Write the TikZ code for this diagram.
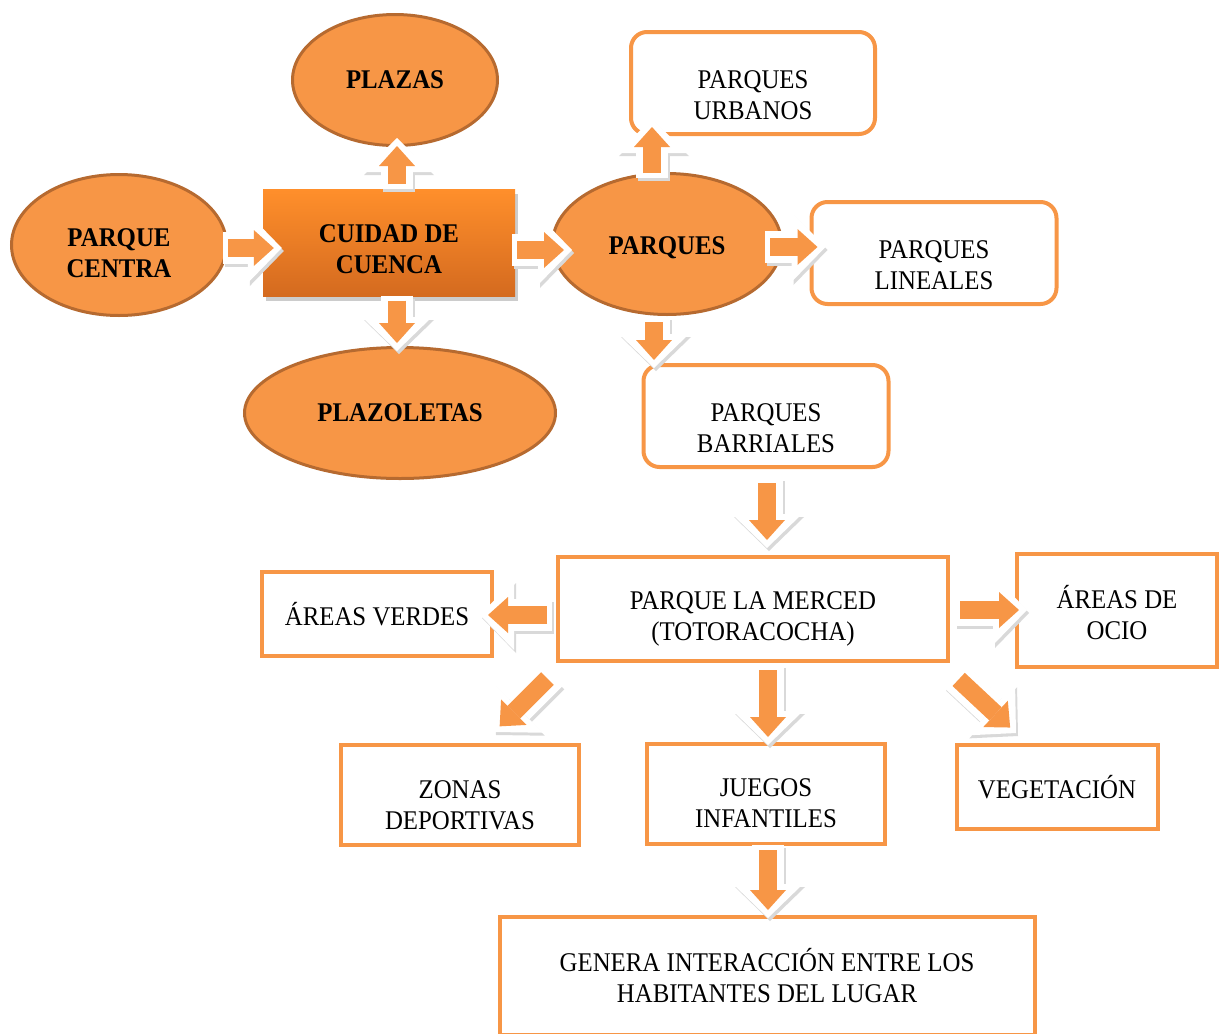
\documentclass[tikz,border=0pt]{standalone}
\usepackage{fontspec}
\setmainfont{Liberation Serif}[FakeStretch=0.92]
\usetikzlibrary{arrows.meta,calc,shapes.geometric,shadows}
\definecolor{Or}{HTML}{F79646}
\definecolor{OrD}{HTML}{B66A30}
\definecolor{OrT}{HTML}{FF8F2B}
\definecolor{OrB}{HTML}{D46A1F}
\tikzset{
  txt/.style={font=\fontsize{27}{31}\selectfont, align=center, inner sep=0pt},
  btxt/.style={txt, font=\fontsize{27}{31}\selectfont\bfseries},
  elip/.style={ellipse, draw=OrD, line width=3pt, fill=Or, btxt},
  caja/.style={rectangle, draw=Or, line width=4pt, fill=white, txt},
  cajar/.style={caja, rounded corners=16pt},
  blk/.style={draw=Or, line width=18pt, shorten <=5pt, shorten >=8pt,
    -{Triangle[width=36pt, length=20pt, line width=0pt]},
    preaction={draw=black!15, line width=32pt, shorten <=0pt, shorten >=0pt,
      -{Triangle[width=70pt, length=34pt, line width=0pt]},
      transform canvas={shift={(2pt,-3pt)}}},
    preaction={draw=white, line width=32pt, shorten <=0pt, shorten >=0pt,
      -{Triangle[width=70pt, length=34pt, line width=0pt]}}},
}
\begin{document}
\begin{tikzpicture}[x=1pt, y=-1pt]
  \useasboundingbox (0,0) rectangle (1219,1034);
  \clip (0,0) rectangle (1219,1034);
  % upper part
  \node[elip, minimum width=215pt, minimum height=141pt,
    label={[btxt, yshift=-8pt]center:{PARQUE\\CENTRA}}] (centra) at (119,245) {};
  \node[rectangle, top color=OrT, bottom color=OrB,
    drop shadow={shadow xshift=3pt, shadow yshift=-4pt, fill=black!40, opacity=.5},
    minimum width=252pt, minimum height=107pt,
    label={[btxt, yshift=-6pt]center:{CUIDAD DE\\CUENCA}}] (cuenca) at (389,243) {};
  \node[elip, minimum width=205pt, minimum height=131pt] (plazas) at (395,80) {PLAZAS};
  \node[elip, minimum width=311pt, minimum height=131pt] (plazoletas) at (400,413) {PLAZOLETAS};
  \node[elip, minimum width=229pt, minimum height=141pt,
    label={[btxt, yshift=-4pt]center:PARQUES}] (parques) at (667,244) {};
  \node[cajar, minimum width=244pt, minimum height=102pt,
    label={[txt, yshift=-12pt]center:{PARQUES\\URBANOS}}] (urbanos) at (753,83) {};
  \node[cajar, minimum width=245pt, minimum height=102pt,
    label={[txt, yshift=-12pt]center:{PARQUES\\LINEALES}}] (lineales) at (934,253) {};
  \node[cajar, minimum width=245pt, minimum height=102pt,
    label={[txt, yshift=-12pt]center:{PARQUES\\BARRIALES}}] (barriales) at (766,416) {};
  % lower part
  \node[caja, minimum width=390pt, minimum height=104pt,
    label={[txt, yshift=-10pt]center:{PARQUE LA MERCED\\(TOTORACOCHA)}}] (merced) at (753,609) {};
  \node[caja, minimum width=230pt, minimum height=84pt] (verdes) at (377,614) {ÁREAS VERDES};
  \node[caja, minimum width=200pt, minimum height=113pt,
    label={[txt, yshift=-3pt]center:{ÁREAS DE\\OCIO}}] (ocio) at (1117,610) {};
  \node[caja, minimum width=238pt, minimum height=100pt,
    label={[txt, yshift=-10pt]center:{ZONAS\\DEPORTIVAS}}] (zonas) at (460,795) {};
  \node[caja, minimum width=238pt, minimum height=100pt,
    label={[txt, yshift=-9pt]center:{JUEGOS\\INFANTILES}}] (juegos) at (766,794) {};
  \node[caja, minimum width=201pt, minimum height=84pt] (vegetacion) at (1057,787) {VEGETACIÓN};
  \node[caja, minimum width=535pt, minimum height=118pt] (genera) at (767,976) {GENERA INTERACCIÓN ENTRE LOS\\HABITANTES DEL LUGAR};
  % block arrows
  \draw[blk] ($(centra.east)+(-5,3)$) -- ($(cuenca.west)+(19,5)$);
  \draw[blk] ($(cuenca.north)+(8,0)$) -- ($(plazas.south)+(2,-9)$);
  \draw[blk] ($(cuenca.south)+(8,-1)$) -- ($(plazoletas.north)+(-3,5)$);
  \draw[blk] ($(cuenca.east)+(-3,7)$) -- ($(parques.west)+(21,6)$);
  \draw[blk] ($(parques.north)+(-15,6)$) -- ($(urbanos.south)+(-101,-17)$);
  \draw[blk] ($(parques.east)+(-18,3)$) -- ($(lineales.west)+(16,-6)$);
  \draw[blk] ($(parques.south)+(-13,1)$) -- ($(barriales.north)+(-112,5)$);
  \draw[blk] ($(barriales.south)+(1,9)$) -- ($(merced.north)+(14,-7)$);
  \draw[blk] ($(merced.west)+(-4,6)$) -- ($(verdes.east)+(-14,1)$);
  \draw[blk] ($(merced.east)+(5,1)$) -- ($(ocio.west)+(12,0)$);
  \draw[blk] ($(merced.south west)+(-5,12)$) -- ($(zonas.north)+(34,-11)$);
  \draw[blk] ($(merced.south)+(15,2)$) -- ($(juegos.north)+(2,3)$);
  \draw[blk] ($(merced.south east)+(5,13)$) -- ($(vegetacion.north)+(-41,-10)$);
  \draw[blk] ($(juegos.south)+(2,-1)$) -- ($(genera.north)+(1,3)$);
\end{tikzpicture}
\end{document}
